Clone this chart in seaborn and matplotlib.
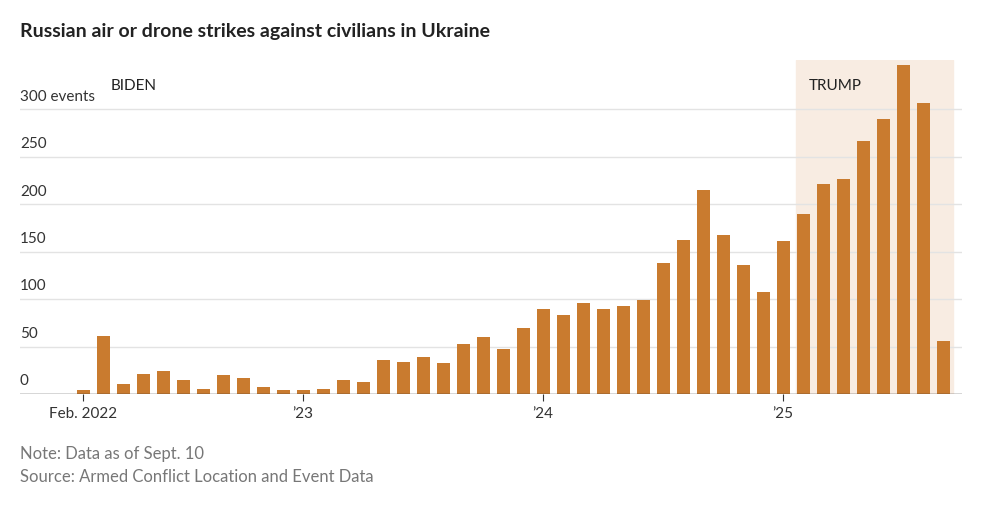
import matplotlib
matplotlib.use("Agg")
import matplotlib.pyplot as plt
import matplotlib.transforms as mtransforms
import seaborn as sns
import pandas as pd

months = pd.date_range("2022-02-01", "2025-09-01", freq="MS").strftime("%Y-%m").tolist()
events = [4, 61, 11, 21, 24, 15, 5, 20, 17, 7, 4,
          4, 5, 15, 13, 36, 34, 39, 33, 53, 60, 47, 70,
          90, 83, 96, 90, 93, 99, 138, 162, 215, 168, 136, 108,
          161, 190, 221, 227, 267, 290, 347, 307, 56]
y_ticks = [0, 50, 100, 150, 200, 250, 300]
y_labels = ["0", "50", "100", "150", "200", "250", "300 events"]
x_tick_pos = [0, 11, 23, 35]
x_tick_labels = ["Feb. 2022", "\u201923", "\u201924", "\u201925"]

df = pd.DataFrame({"month": months, "events": events})
bar_color = "#c97b2f"
font = "Lato"

fig = plt.figure(figsize=(10.06, 5.07), dpi=100)
ax = fig.add_axes([20 / 1006, 1 - 394 / 507, 942 / 1006, 334 / 507])

ax.axvspan(35.65, 43.5, color="#f8ece2", zorder=0)
sns.barplot(data=df, x="month", y="events", color=bar_color, width=0.65,
            saturation=1, ax=ax, zorder=2)

ax.set_xlim(-3.15, 43.95)
ax.set_ylim(0, 352)
for t in y_ticks[1:]:
    ax.axhline(t, color="#e3e3e3", lw=1, zorder=1)
ax.axhline(0, color="#333333", lw=1, zorder=3)

trans = mtransforms.blended_transform_factory(ax.transAxes, ax.transData)
for t, lab in zip(y_ticks, y_labels):
    ax.text(0, t + 6, lab, transform=trans, ha="left", va="bottom",
            fontsize=11, color="#333333", family=font)

ax.set_yticks([])
ax.set_xticks(x_tick_pos)
ax.set_xticklabels(x_tick_labels, fontsize=11, color="#333333", family=font)
ax.tick_params(axis="x", length=5, color="#333333", pad=4)
ax.set_xlabel("")
ax.set_ylabel("")
for s in ax.spines.values():
    s.set_visible(False)

ax.text(1.4, 325, "BIDEN", fontsize=11, color="#222222", family=font, va="center")
ax.text(36.3, 325, "TRUMP", fontsize=11, color="#222222", family=font, va="center")

fig.text(20 / 1006, 1 - 32 / 507, "Russian air or drone strikes against civilians in Ukraine",
         fontsize=14, fontweight="bold", color="#222222", family=font, va="center")
fig.text(20 / 1006, 1 - 454 / 507, "Note: Data as of Sept. 10",
         fontsize=12, color="#777777", family=font, va="center")
fig.text(20 / 1006, 1 - 477 / 507, "Source: Armed Conflict Location and Event Data",
         fontsize=12, color="#777777", family=font, va="center")

fig.savefig("out.png", dpi=100)
